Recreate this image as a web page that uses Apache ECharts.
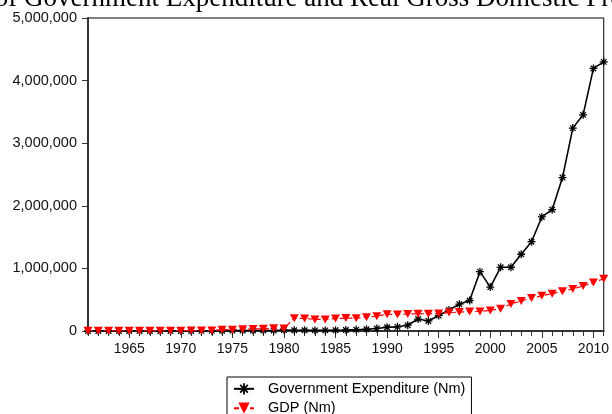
<!DOCTYPE html>
<html>
<head>
<meta charset="utf-8">
<script src="https://cdn.jsdelivr.net/npm/echarts@6/dist/echarts.min.js"></script>
<style>
html,body{margin:0;padding:0;background:#fff;}
#chart{width:612px;height:414px;}
</style>
</head>
<body>
<div id="chart"></div>
<script>
// ---- data ----
var years = [];
for (var y = 1961; y <= 2011; y++) years.push(String(y));

var yTickValues = [0, 1000000, 2000000, 3000000, 4000000, 5000000];

var govExpenditure = [
  180, 190, 210, 250, 270, 300, 320, 380, 560, 904,
  997, 1464, 1529, 4740, 5943, 7857, 8824, 8000, 7406, 14968,
  11414, 11923, 9637, 9928, 13041, 16224, 22019, 27750, 41028, 60268,
  66584, 92797, 191229, 160893, 248768, 337218, 428215, 487113, 947690, 701059,
  1018026, 1018156, 1225966, 1426200, 1822100, 1938002, 2450897, 3240820, 3452991, 4194218,
  4299155
];

var gdp = [
  2361, 2550, 2722, 2870, 3111, 3374, 2752, 2656, 3549, 5281,
  6650, 7188, 8630, 18823, 21475, 26657, 31520, 34540, 41974, 40000,
  205222, 199685, 185598, 183563, 201036, 205971, 204807, 219875, 236729, 267550,
  265379, 271366, 274833, 275451, 281407, 293745, 302023, 310890, 312184, 329179,
  356994, 433203, 477533, 527576, 561931, 595822, 634251, 672203, 718977, 776332,
  834161
];

var titleText = 'of Government Expenditure and Real Gross Domestic Product';
var seriesNames = ['Government Expenditure (Nm)', 'GDP (Nm)'];

// ---- chart ----
var asterisk = 'path://M0,4.2L10,4.2L10,5.8L0,5.8Z M4.2,0L5.8,0L5.8,10L4.2,10Z M1,2.1L2.1,1L9,7.9L7.9,9Z M7.9,1L9,2.1L2.1,9L1,7.9Z';
var downTri = 'path://M0,0L10,0L5,9Z';
var sans = 'Liberation Sans';

var chart = echarts.init(document.getElementById('chart'), null, {renderer: 'canvas'});
chart.setOption({
  animation: false,
  backgroundColor: '#fff',
  graphic: [{
    type: 'text',
    left: -5.3,
    top: -15,
    style: {
      text: titleText,
      font: '27px "Liberation Serif"',
      fill: '#000'
    }
  }],
  grid: {
    left: 88, right: 3, top: 18, bottom: 83,
    show: true, borderColor: '#000', borderWidth: 1, backgroundColor: 'transparent'
  },
  legend: {
    orient: 'vertical',
    left: 227, top: 377,
    height: 80,
    padding: [4.3, 6, 6, 6],
    itemGap: 4.4,
    itemWidth: 20, itemHeight: 14,
    borderColor: '#000', borderWidth: 1, backgroundColor: '#fff',
    borderRadius: 0,
    textStyle: {fontFamily: sans, fontSize: 14.5, color: '#000', padding: [0, 0, 0, 9], lineHeight: 14},
    data: seriesNames
  },
  xAxis: [{
    type: 'category',
    data: years,
    boundaryGap: false,
    axisLine: {lineStyle: {color: '#333', width: 2}},
    axisTick: {
      show: true, length: 7, inside: false,
      interval: function (i, v) { return Number(v) % 5 === 0; },
      lineStyle: {color: '#333', width: 1}
    },
    axisLabel: {
      interval: function (i, v) { return Number(v) % 5 === 0; },
      fontFamily: sans, fontSize: 14, color: '#111', margin: 11
    },
    splitLine: {show: false}
  }, {
    type: 'category',
    data: years,
    position: 'bottom',
    boundaryGap: false,
    axisLine: {show: false},
    axisTick: {show: true, length: 5, interval: 0, lineStyle: {color: '#333', width: 1}},
    axisLabel: {show: false},
    splitLine: {show: false}
  }],
  yAxis: {
    type: 'value',
    min: 0, max: 5000000, interval: 1000000,
    axisLine: {show: true, lineStyle: {color: '#333', width: 2}},
    axisTick: {show: true, length: 6, lineStyle: {color: '#333', width: 1}},
    axisLabel: {
      fontFamily: sans, fontSize: 14.5, color: '#111', margin: 11,
      formatter: function (v) { return yTickValues.indexOf(v) >= 0 ? v.toLocaleString('en-US') : ''; }
    },
    splitLine: {show: false}
  },
  series: [{
    name: seriesNames[0],
    type: 'line',
    data: govExpenditure,
    symbol: asterisk,
    symbolSize: 8,
    showAllSymbol: true,
    lineStyle: {color: '#000', width: 1.6},
    itemStyle: {color: '#000'},
    z: 2
  }, {
    name: seriesNames[1],
    type: 'line',
    data: gdp,
    symbol: downTri,
    symbolSize: [9, 8],
    showAllSymbol: true,
    lineStyle: {color: '#ff0000', width: 1.2, type: [5, 3]},
    itemStyle: {color: '#ff0000'},
    z: 3
  }]
});
</script>
</body>
</html>
